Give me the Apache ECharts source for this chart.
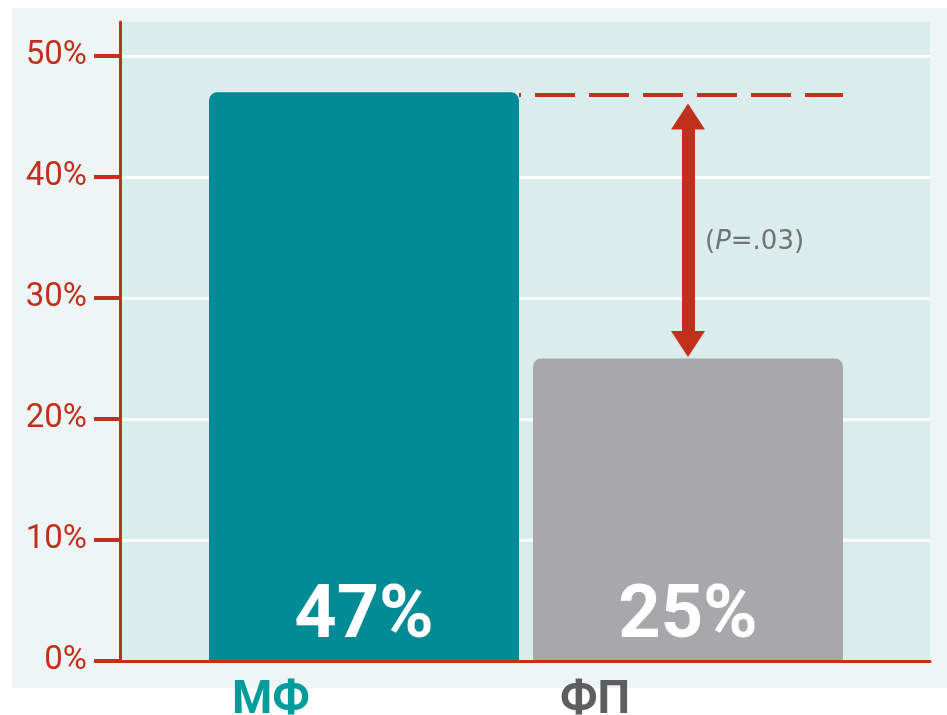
<!DOCTYPE html>
<html>
<head>
<meta charset="utf-8">
<script src="https://cdn.jsdelivr.net/npm/echarts@6/dist/echarts.min.js"></script>
<style>
    html, body { margin: 0; padding: 0; background: #fff; }
    #main { width: 947px; height: 715px; }
</style>
</head>
<body>
<div id="main"></div>
<script>
// data
const categories = ['МФ', 'ФП']
const shares = [47, 25]
const yTicks = [0, 10, 20, 30, 40, 50]
const axisTop = 52.8           // red axis line runs a bit above 50%
const refLevel = 46.8          // dashed reference line
const arrowEnds = [45.0, 26.2] // double arrow between the two bars (head centres)
const pLabelLevel = 34.6
const pLabel = '({i|P}=.03)'

const red = '#c0301c'
const barColors = ['#008b95', '#a8a8ab']
const catColors = ['#009c9c', '#5e5e5e']
const barWidth = 310
const barGridLeft = 202
const barGridWidth = 648
const halfBar = barWidth / 2 / (barGridWidth / categories.length)

const chart = echarts.init(document.getElementById('main'))

chart.setOption({
    animation: false,
    backgroundColor: '#fff',
    textStyle: { fontFamily: 'Roboto' },
    graphic: [{
        type: 'rect',
        left: 12,
        top: 8,
        z: -10,
        shape: { width: 935, height: 680 },
        style: { fill: '#eef6f5' }
    }],
    grid: [
        // plot background + red axes
        { left: 120, right: 17, top: 22, bottom: 54, show: true, backgroundColor: '#dbecec', borderWidth: 0, outerBoundsMode: 'none' },
        // ticks, labels, white grid lines
        { left: 120, right: 17, top: 56, bottom: 54, outerBoundsMode: 'none' },
        // bars
        { left: barGridLeft, width: barGridWidth, top: 56, bottom: 54, outerBoundsMode: 'none' }
    ],
    xAxis: [{
        gridIndex: 0,
        type: 'value',
        z: 10,
        axisLine: { show: true, onZero: false, lineStyle: { color: red, width: 3 } },
        axisTick: { show: false },
        axisLabel: { show: false },
        splitLine: { show: false }
    }, {
        gridIndex: 1,
        type: 'value',
        show: false
    }, {
        gridIndex: 2,
        type: 'category',
        data: categories,
        axisLine: { show: false },
        axisTick: { show: false },
        axisLabel: {
            margin: 17,
            fontSize: 46,
            fontWeight: 'bold',
            fontFamily: 'Roboto',
            padding: [0, 186, 0, 0],
            color: (v, i) => catColors[i]
        }
    }, {
        gridIndex: 2,
        type: 'value',
        min: 0,
        max: 2,
        show: false
    }],
    yAxis: [{
        gridIndex: 0,
        type: 'value',
        min: 0,
        max: axisTop,
        z: 10,
        axisLine: { show: true, lineStyle: { color: red, width: 3 } },
        axisTick: { show: false },
        axisLabel: { show: false },
        splitLine: { show: false }
    }, {
        gridIndex: 1,
        type: 'value',
        min: yTicks[0],
        max: yTicks[yTicks.length - 1],
        interval: yTicks[1] - yTicks[0],
        axisLine: { show: false },
        axisTick: { show: true, length: 26, lineStyle: { color: red, width: 4 } },
        axisLabel: {
            margin: 33,
            fontSize: 33,
            fontFamily: 'Roboto',
            color: red,
            padding: [8, 0, 0, 0],
            formatter: '{value}%'
        },
        splitLine: { show: true, lineStyle: { color: '#ffffff', width: 3 } }
    }, {
        gridIndex: 2,
        type: 'value',
        min: yTicks[0],
        max: yTicks[yTicks.length - 1],
        show: false
    }],
    series: [{
        type: 'bar',
        xAxisIndex: 2,
        yAxisIndex: 2,
        z: 3,
        barWidth: barWidth,
        data: shares,
        itemStyle: {
            color: (p) => barColors[p.dataIndex],
            borderRadius: [8, 8, 0, 0]
        },
        label: {
            show: true,
            position: 'insideBottom',
            distance: 6,
            color: '#ffffff',
            fontSize: 74,
            fontWeight: 'bold',
            fontFamily: 'Roboto',
            formatter: '{c}%'
        }
    }, {
        type: 'scatter',
        xAxisIndex: 3,
        yAxisIndex: 2,
        z: 4,
        symbolSize: 0,
        silent: true,
        data: [[1.5, pLabelLevel]],
        label: {
            show: true,
            position: 'right',
            distance: 17,
            formatter: pLabel,
            fontFamily: 'DejaVu Sans',
            fontSize: 26,
            color: '#555555',
            rich: {
                i: { fontFamily: 'DejaVu Sans', fontSize: 26, fontStyle: 'italic', color: '#555555' }
            }
        },
        markLine: {
            silent: true,
            animation: false,
            label: { show: false },
            symbol: 'none',
            data: [
                [
                    { coord: [0.5 + halfBar, refLevel], lineStyle: { color: red, width: 4, type: [40, 14], dashOffset: 38 } },
                    { coord: [1.5 + halfBar, refLevel] }
                ],
                [
                    { coord: [1.5, arrowEnds[0]], symbol: 'triangle', symbolSize: [34, 26], lineStyle: { color: red, width: 13, type: 'solid' } },
                    { coord: [1.5, arrowEnds[1]], symbol: 'triangle', symbolSize: [34, 26] }
                ]
            ]
        }
    }]
})
</script>
</body>
</html>
